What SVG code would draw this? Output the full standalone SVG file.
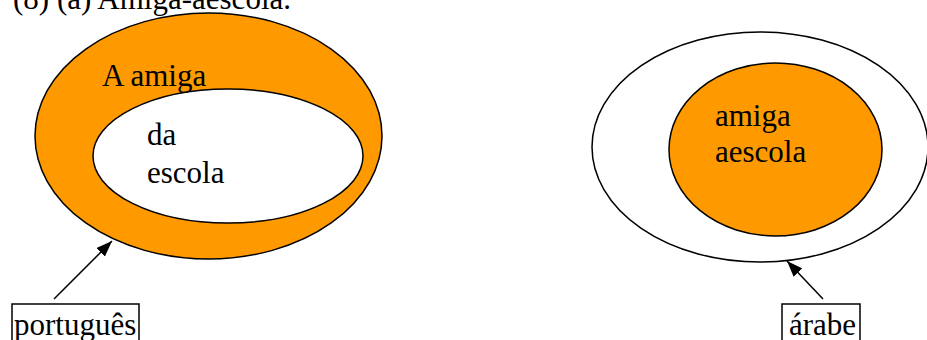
<svg xmlns="http://www.w3.org/2000/svg" width="927" height="340" viewBox="0 0 927 340">
<style>
text{font-family:"Liberation Serif","Times New Roman",serif;font-size:31px;fill:#000}
.sh{stroke:#000;stroke-width:1.5}
.or{fill:#FF9900}
.wh{fill:#fff}
.box{fill:none;stroke:#000;stroke-width:1.5}
.ln{stroke:#000;stroke-width:1.5;fill:none}
</style>
<defs>
<marker id="ah" viewBox="0 0 10 10" refX="10" refY="5" markerWidth="10" markerHeight="10" markerUnits="userSpaceOnUse" orient="auto">
<path d="M0,0 L10,5 L0,10 z" fill="#000"/>
</marker>
<marker id="ah2" viewBox="0 0 16 12" refX="16" refY="6" markerWidth="16" markerHeight="12" markerUnits="userSpaceOnUse" orient="auto">
<path d="M0,0 L16,6 L0,12 z" fill="#000"/>
</marker>
</defs>
<rect width="927" height="340" fill="#fff"/>
<text id="title" x="13" y="9">(8) (a) Amiga-aescola.</text>
<g id="portugues-diagram">
<ellipse class="sh or" cx="208.5" cy="136" rx="173.5" ry="123"/>
<ellipse class="sh wh" cx="228" cy="156" rx="135" ry="67"/>
<text x="102" y="86">A amiga</text>
<text x="147" y="145">da</text>
<text x="147" y="183">escola</text>
</g>
<g id="arabe-diagram">
<ellipse class="sh wh" cx="760" cy="147" rx="168" ry="115"/>
<ellipse class="sh or" cx="775.5" cy="149.5" rx="106.5" ry="86.5"/>
<text x="715" y="126">amiga</text>
<text x="715" y="162">aescola</text>
</g>
<g id="label-portugues">
<rect class="box" x="12" y="304" width="127" height="40"/>
<text x="14" y="335">português</text>
</g>
<g id="label-arabe">
<rect class="box" x="782" y="304" width="78" height="40"/>
<text x="789" y="335">árabe</text>
</g>
<g id="connectors">
<line class="ln" x1="54" y1="299" x2="112" y2="241" marker-end="url(#ah2)"/>
<line class="ln" x1="823" y1="299" x2="787" y2="261" marker-end="url(#ah2)"/>
</g>
</svg>
